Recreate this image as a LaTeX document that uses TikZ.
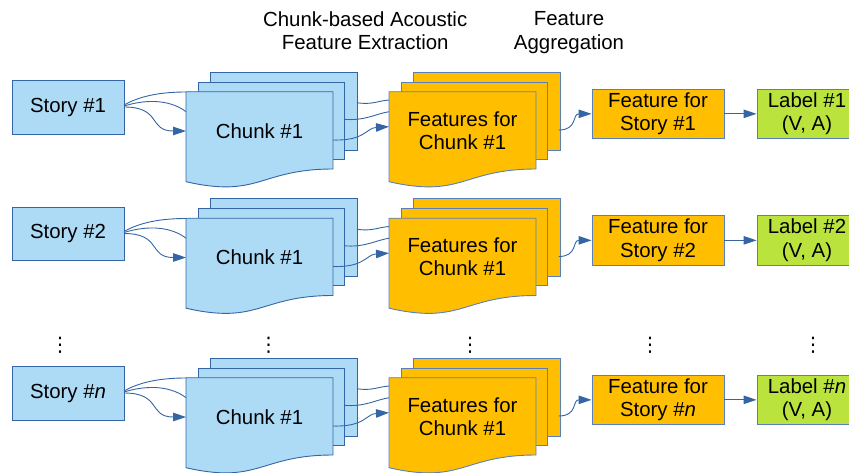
\documentclass[tikz,border=0pt]{standalone}
\usepackage{fontspec}
\setmainfont{Liberation Sans}
\newfontfamily\dejavu{DejaVu Sans}
\usetikzlibrary{arrows.meta}
\definecolor{lblue}{HTML}{ADDBF6}
\definecolor{bordblue}{HTML}{3465A4}
\definecolor{obord}{HTML}{5A7FBE}
\definecolor{orng}{HTML}{FFBF00}
\definecolor{limeg}{HTML}{BBE33D}
\tikzset{
  conn/.style={draw=bordblue, line width=0.9pt},
  arr/.style={conn, -{Triangle[length=13pt,width=8.5pt]}},
  boxb/.style={draw=bordblue, fill=lblue, line width=0.9pt, inner sep=0pt, align=center},
  boxo/.style={draw=obord, fill=orng, line width=0.9pt, inner sep=0pt, align=center},
  boxg/.style={draw=obord, fill=limeg, line width=0.9pt, inner sep=0pt, align=center},
  sheetb/.style={draw=bordblue, fill=lblue, line width=0.9pt},
  sheeto/.style={draw=obord, fill=orng, line width=0.9pt},
  lbl/.style={inner sep=0pt, align=center, text=black},
  vdot/.style={inner sep=0pt, font=\fontsize{20}{23.3}\dejavu},
}
% document stack: #1 x, #2 y (top-left of front sheet), #3 style
\newcommand\docstack[3]{%
  \begin{scope}[shift={(#1,#2)}]
    \path[#3] (24,-19.4) rectangle (171,58.3);
    \path[#3] (12,-9.7) rectangle (158,67.6);
    \path[#3] (0,0) -- (147,0) -- (147,77.3)
       .. controls (73.5,77.3) and (73.5,106.8) .. (0,90) -- cycle;
  \end{scope}}
% one row: #1 vertical offset, #2 id, #3 index text
\newcommand\storyrow[3]{%
  \begin{scope}[shift={(0,#1)}]
    \node[boxb, minimum width=112pt, minimum height=53.3pt] (story#2) at (68,107.35) {Story \##3};
    \docstack{186}{91.7}{sheetb}
    \node[lbl] (chunk#2) at (259.5,131) {Chunk \#1};
    \docstack{389}{91.7}{sheeto}
    \node[lbl] (feat#2) at (462.5,130.5) {Features for\\Chunk \#1};
    \node[boxo, minimum width=132pt, minimum height=49.7pt] (fstory#2) at (658,113.85) {Feature for\\Story \##3};
    \node[boxg, minimum width=100pt, minimum height=49.7pt] (label#2) at (807,113.85) {Label \##3\\(V, A)};
    % connection points
    \coordinate (sa#2) at (124,105);
    \coordinate (sb#2) at (124,106);
    \coordinate (sc#2) at (124,107);
    \coordinate (ca#2) at (186,92);
    \coordinate (cb#2) at (186,111.7);
    \coordinate (cc#2) at (186,131);
    \coordinate (cra#2) at (357,102.7);
    \coordinate (crb#2) at (344,119.3);
    \coordinate (crc#2) at (333,140);
    \coordinate (fa#2) at (389,100);
    \coordinate (fb#2) at (389,111.7);
    \coordinate (fc#2) at (389,126.7);
    \coordinate (fr#2) at (558.7,130);
    \draw[conn] (sa#2) .. controls (140,96) and (160,92) .. (ca#2);
    \draw[conn] (sb#2) .. controls (150,98) and (172,101) .. (cb#2);
    \draw[arr] (sc#2) .. controls (162,107) and (148,131) .. (cc#2);
    \draw[conn] (cra#2) .. controls (372,105) and (377,101) .. (fa#2);
    \draw[conn] (crb#2) .. controls (365,121) and (375,114) .. (fb#2);
    \draw[arr] (crc#2) .. controls (365,141) and (366,128) .. (fc#2);
    \draw[arr] (fr#2) .. controls (578,130) and (572,113.85) .. (fstory#2.west);
    \draw[arr] (fstory#2.east) -- (label#2.west);
  \end{scope}}
\begin{document}
\begin{tikzpicture}[x=1pt,y=-1pt,font=\fontsize{20.4}{23.3}\selectfont]
  \clip (0,0) rectangle (849,472);
  \node[lbl, anchor=north] (title1) at (365.2,11.2) {Chunk-based Acoustic\\Feature Extraction};
  \node[lbl, anchor=north] (title2) at (569,11.5) {Feature\\Aggregation};
  \storyrow{0}{1}{1}
  \storyrow{126.5}{2}{2}
  \storyrow{286}{3}{\textit{n}}
  \node[vdot] (d1) at (60,345) {⋮};
  \node[vdot] (d2) at (268.7,345) {⋮};
  \node[vdot] (d3) at (470,345) {⋮};
  \node[vdot] (d4) at (650,345) {⋮};
  \node[vdot] (d5) at (813,345) {⋮};
\end{tikzpicture}
\end{document}
